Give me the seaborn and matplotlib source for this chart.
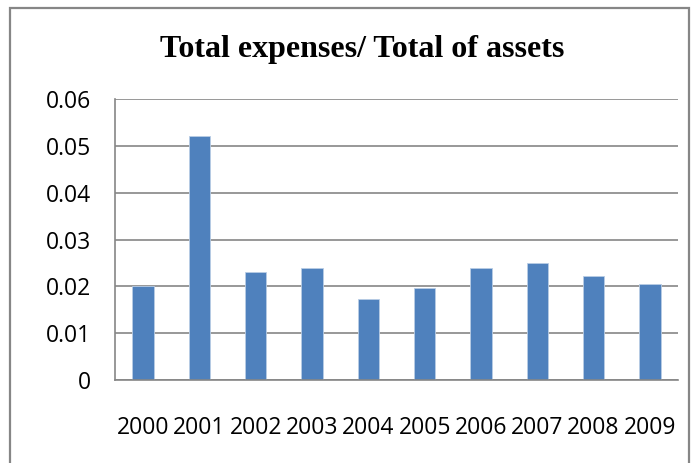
import matplotlib
matplotlib.use("Agg")
import matplotlib.pyplot as plt
import seaborn as sns
import numpy as np
from matplotlib.patches import Rectangle

years = ["2000", "2001", "2002", "2003", "2004", "2005", "2006", "2007", "2008", "2009"]
ratios = [0.0200, 0.0520, 0.0230, 0.0240, 0.0174, 0.0196, 0.0240, 0.0249, 0.0223, 0.0206]
y_ticks = [0, 0.01, 0.02, 0.03, 0.04, 0.05, 0.06]
y_labels = ["0", "0.01", "0.02", "0.03", "0.04", "0.05", "0.06"]

sns.set_style("white")
plt.rcParams["font.family"] = ["Open Sans", "DejaVu Sans"]

grey = "#868686"
fig = plt.figure(figsize=(6.94, 4.63), dpi=100)
ax = fig.add_axes([115 / 694, 1 - 380 / 463, (678 - 115) / 694, (380 - 99) / 463])

sns.barplot(x=years, y=ratios, color="#4F81BD", width=0.38, saturation=1,
            edgecolor="#B9CDE5", linewidth=0.6, ax=ax)

ax.set_xlim(-0.5, len(years) - 0.5)
ax.set_ylim(0, 0.06)
ax.set_yticks(y_ticks)
ax.set_yticklabels(y_labels)
ax.set_xlabel("")
ax.set_ylabel("")
ax.yaxis.grid(True, color=grey, linewidth=1.2)
ax.set_axisbelow(True)

for side in ["top", "right"]:
    ax.spines[side].set_visible(False)
for side in ["left", "bottom"]:
    ax.spines[side].set_color(grey)
    ax.spines[side].set_linewidth(1.2)

# category labels at centres, tick marks at the boundaries
ax.set_xticks(np.arange(-0.5, len(years)), minor=True)
ax.tick_params(axis="x", which="major", length=0, pad=26, labelsize=16.5, colors="black")
ax.tick_params(axis="x", which="minor", length=5.5, width=1.2, color=grey, direction="out")
ax.tick_params(axis="y", length=6, width=1.2, color=grey, direction="out", pad=11,
               labelsize=16.5, labelcolor="black")

fig.text(0.522, 0.893, "Total expenses/ Total of assets", ha="center", va="center",
         fontsize=23, fontweight="bold", family="Liberation Serif", color="black")

# outer chart border
fig.patches.append(Rectangle((10 / 694, -0.2), (689 - 10) / 694, 1.2 - 8 / 463,
                             transform=fig.transFigure, fill=False,
                             edgecolor=grey, linewidth=1.6))

fig.savefig("out.png", dpi=100)
